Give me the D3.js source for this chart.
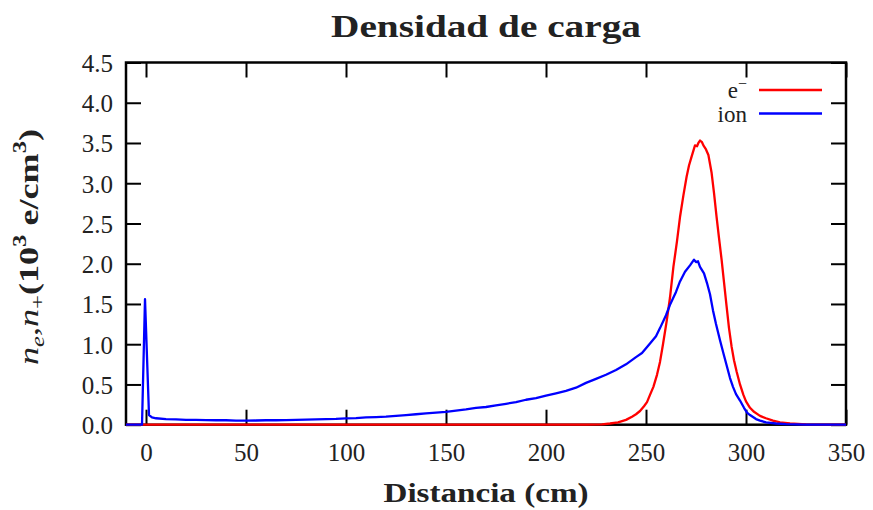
<!DOCTYPE html>
<html>
<head>
<meta charset="utf-8">
<script src="https://cdn.jsdelivr.net/npm/d3@7"></script>
<style>
  html, body { margin: 0; padding: 0; background: #fff; }
  svg { display: block; }
</style>
</head>
<body>
<svg id="chart" width="873" height="510"></svg>
<script>
// Charge density along the discharge axis: electrons (e−) and ions.
const xTicks = [0, 50, 100, 150, 200, 250, 300, 350];
const yTicks = [0, 0.5, 1, 1.5, 2, 2.5, 3, 3.5, 4, 4.5];

const seriesNames = ["e\u2212", "ion"];
const seriesColors = ["#ff0000", "#0000ff"];

// electron density (10^3 e/cm^3) vs distance (cm)
const electronX = [-10, 220, 228, 232, 236, 240, 243, 245, 247, 249, 250.5, 252, 253.7, 255.5, 257, 258.5,
  260.3, 262, 263.7, 265.5, 267, 268.7, 270.3, 271.5, 272.8, 274.5, 275.5, 276.2, 277, 278, 278.7, 280,
  281.2, 282.8, 284, 285.3, 286.5, 287.8, 289, 290.3, 291.5, 292.8, 294, 295.3, 297, 298.7, 300, 302,
  304, 307, 310, 313.5, 317, 322, 330, 340, 350];
const electronY = [0, 0, 0.005, 0.015, 0.03, 0.06, 0.10, 0.13, 0.17, 0.23, 0.28, 0.37, 0.47, 0.62, 0.78, 1.0,
  1.28, 1.58, 1.96, 2.28, 2.58, 2.85, 3.08, 3.22, 3.33, 3.47, 3.46, 3.50, 3.53, 3.51, 3.47, 3.42,
  3.35, 3.13, 2.88, 2.58, 2.32, 2.05, 1.77, 1.47, 1.20, 0.97, 0.80, 0.66, 0.50, 0.37, 0.29, 0.21,
  0.16, 0.11, 0.08, 0.05, 0.03, 0.015, 0.005, 0.001, 0];

// ion density (10^3 e/cm^3) vs distance (cm)
const ionX = [-10, -2, -0.5, 1.5, 3, 5, 10, 15, 20, 25, 30, 35, 40, 45, 50, 55, 60, 65, 70, 75, 80, 85, 90,
  95, 100, 105, 110, 115, 120, 125, 130, 135, 140, 145, 150, 155, 160, 165, 170, 175, 180, 185, 190, 195,
  200, 205, 210, 215, 220, 225, 230, 235, 240, 245, 248, 250, 252, 255, 257, 260, 262, 265, 267, 269.5,
  272, 274, 275, 276, 277, 279, 280.5, 282, 283.5, 285, 287, 289, 290.5, 292, 293.5, 295, 297, 299,
  300.5, 302, 305, 307, 310, 315, 320, 330, 340, 350];
const ionY = [0, 0, 1.56, 0.12, 0.09, 0.08, 0.07, 0.065, 0.06, 0.06, 0.058, 0.055, 0.055, 0.05, 0.05, 0.052,
  0.055, 0.055, 0.058, 0.06, 0.062, 0.065, 0.07, 0.072, 0.078, 0.082, 0.09, 0.095, 0.10, 0.11, 0.12,
  0.13, 0.14, 0.15, 0.16, 0.175, 0.19, 0.21, 0.22, 0.24, 0.26, 0.28, 0.31, 0.33, 0.36, 0.39, 0.42, 0.46,
  0.52, 0.57, 0.62, 0.68, 0.75, 0.84, 0.89, 0.95, 1.01, 1.10, 1.20, 1.36, 1.49, 1.65, 1.78, 1.90, 1.98,
  2.05, 2.02, 2.03, 1.96, 1.88, 1.76, 1.62, 1.42, 1.25, 1.05, 0.86, 0.72, 0.58, 0.47, 0.38, 0.30, 0.21,
  0.15, 0.12, 0.07, 0.05, 0.03, 0.015, 0.007, 0.002, 0, 0];

const svg = d3.select("#chart");
const plot = { left: 126, right: 846, top: 62.5, bottom: 424.7 };

const x = d3.scaleLinear().domain([-10, 350]).range([plot.left, plot.right]);
const y = d3.scaleLinear().domain([0, 4.5]).range([plot.bottom, plot.top]);

const serifFont = "'Liberation Serif', 'DejaVu Serif', serif";
const tickLen = 15;

// axes with inward ticks on all four sides
function styleAxis(g) {
  g.select(".domain").remove();
  g.selectAll(".tick line").attr("stroke", "#000").attr("stroke-width", 2);
  g.selectAll(".tick text")
    .attr("fill", "#222")
    .style("font-family", serifFont)
    .style("font-size", "25px");
}

svg.append("g")
  .attr("transform", `translate(0,${plot.bottom})`)
  .call(d3.axisBottom(x).tickValues(xTicks).tickSize(-tickLen).tickPadding(tickLen + 12).tickFormat(d3.format("d")))
  .call(styleAxis);

svg.append("g")
  .attr("transform", `translate(0,${plot.top})`)
  .call(d3.axisTop(x).tickValues(xTicks).tickSize(-tickLen).tickFormat(""))
  .call(styleAxis);

svg.append("g")
  .attr("transform", `translate(${plot.left},0)`)
  .call(d3.axisLeft(y).tickValues(yTicks).tickSize(-tickLen).tickPadding(13).tickFormat(d3.format(".1f")))
  .call(styleAxis);

svg.append("g")
  .attr("transform", `translate(${plot.right},0)`)
  .call(d3.axisRight(y).tickValues(yTicks).tickSize(-tickLen).tickFormat(""))
  .call(styleAxis);

svg.selectAll(".tick text").attr("dy", "0.36em");

// frame
svg.append("rect")
  .attr("x", plot.left).attr("y", plot.top)
  .attr("width", plot.right - plot.left).attr("height", plot.bottom - plot.top)
  .attr("fill", "none").attr("stroke", "#000").attr("stroke-width", 2.5);

// data lines
const line = d3.line().x(d => x(d[0])).y(d => y(d[1]));
const series = [
  d3.zip(electronX, electronY),
  d3.zip(ionX, ionY)
];
series.forEach((pts, i) => {
  svg.append("path")
    .datum(pts)
    .attr("d", line)
    .attr("fill", "none")
    .attr("stroke", seriesColors[i])
    .attr("stroke-width", 2.3)
    .attr("stroke-linejoin", "round");
});

// legend
const legend = svg.append("g");
seriesNames.forEach((name, i) => {
  const ly = 90 + i * 23.5;
  legend.append("line")
    .attr("x1", 759).attr("x2", 822).attr("y1", ly).attr("y2", ly)
    .attr("stroke", seriesColors[i]).attr("stroke-width", 2.3);
  const t = legend.append("text")
    .attr("x", 747).attr("y", ly + 8)
    .attr("text-anchor", "end")
    .attr("fill", "#222")
    .style("font-family", serifFont)
    .style("font-size", "23px");
  if (i === 0) {
    t.append("tspan").text("e");
    t.append("tspan").attr("dy", -9).style("font-size", "16px").text("\u2212");
  } else {
    t.text(name);
  }
});

// title
svg.append("text")
  .attr("x", 486).attr("y", 37)
  .attr("text-anchor", "middle")
  .attr("fill", "#222")
  .attr("textLength", 310).attr("lengthAdjust", "spacingAndGlyphs")
  .style("font-family", serifFont)
  .style("font-weight", "bold")
  .style("font-size", "31px")
  .text("Densidad de carga");

// x-axis label
svg.append("text")
  .attr("x", 486).attr("y", 502)
  .attr("text-anchor", "middle")
  .attr("fill", "#222")
  .attr("textLength", 205).attr("lengthAdjust", "spacingAndGlyphs")
  .style("font-family", serifFont)
  .style("font-weight", "bold")
  .style("font-size", "27px")
  .text("Distancia (cm)");

// y-axis label: n_e, n_+ (10^3 e/cm^3)
const yl = svg.append("text")
  .attr("transform", "translate(38,247) rotate(-90)")
  .attr("text-anchor", "middle")
  .attr("fill", "#222")
  .attr("textLength", 236).attr("lengthAdjust", "spacingAndGlyphs")
  .style("font-family", serifFont)
  .style("font-size", "28px");
yl.append("tspan").style("font-style", "italic").text("n");
yl.append("tspan").attr("dy", 6).style("font-style", "italic").style("font-size", "19px").text("e");
yl.append("tspan").attr("dy", -6).text(",");
yl.append("tspan").style("font-style", "italic").text("n");
yl.append("tspan").attr("dy", 6).style("font-size", "19px").text("+");
yl.append("tspan").attr("dy", -6).style("font-weight", "bold").text("(10");
yl.append("tspan").attr("dy", -12).style("font-weight", "bold").style("font-size", "19px").text("3");
yl.append("tspan").attr("dy", 12).style("font-weight", "bold").text(" e/cm");
yl.append("tspan").attr("dy", -12).style("font-weight", "bold").style("font-size", "19px").text("3");
yl.append("tspan").attr("dy", 12).style("font-weight", "bold").text(")");
</script>
</body>
</html>
